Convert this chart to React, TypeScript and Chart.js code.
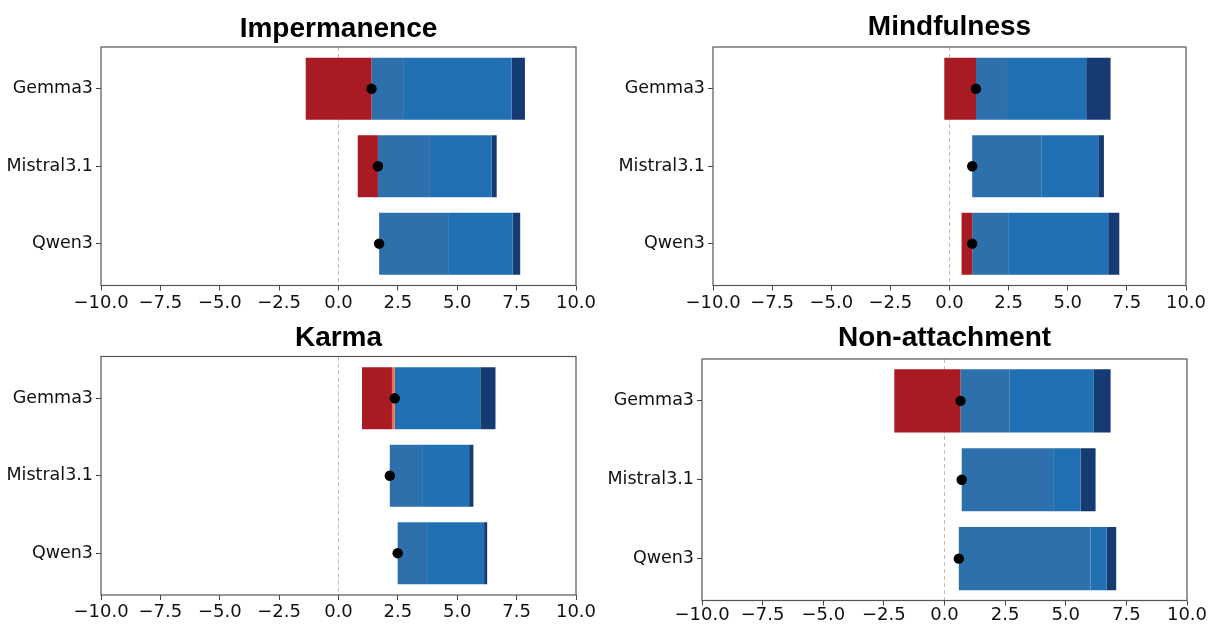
import React, { useEffect, useRef } from 'react';
import { Chart, registerables } from 'chart.js';

Chart.register(...registerables);

// ---------- data ----------
const MODELS = ['Gemma3', 'Mistral3.1', 'Qwen3'];
const TITLES = ['Impermanence', 'Mindfulness', 'Karma', 'Non-attachment'];
const X_TICKS = [-10, -7.5, -5, -2.5, 0, 2.5, 5, 7.5, 10];
const SEGMENT_NAMES = ['Strongly negative', 'Negative', 'Positive', 'More positive', 'Strongly positive'];
const SEGMENT_COLORS = ['#a81b23', '#e8734f', '#2d70ac', '#2270b4', '#163b73'];

// Impermanence (per model: Gemma3, Mistral3.1, Qwen3)
const IMP_START = [-1.38, 0.81, 1.71];
const IMP_SEG1 = [2.77, 0.85, 0];
const IMP_SEG2 = [0, 0, 0];
const IMP_SEG3 = [1.33, 2.19, 2.94];
const IMP_SEG4 = [4.57, 2.6, 2.68];
const IMP_SEG5 = [0.56, 0.21, 0.32];
const IMP_MEAN = [1.39, 1.66, 1.71];

// Mindfulness
const MIN_START = [-0.22, 0.96, 0.51];
const MIN_SEG1 = [1.34, 0, 0.45];
const MIN_SEG2 = [0, 0, 0];
const MIN_SEG3 = [1.31, 2.92, 1.52];
const MIN_SEG4 = [3.35, 2.41, 4.23];
const MIN_SEG5 = [1.03, 0.24, 0.47];
const MIN_MEAN = [1.12, 0.96, 0.96];

// Karma
const KAR_START = [0.99, 2.16, 2.49];
const KAR_SEG1 = [1.26, 0, 0];
const KAR_SEG2 = [0.12, 0, 0];
const KAR_SEG3 = [0, 1.36, 1.24];
const KAR_SEG4 = [3.6, 1.98, 2.4];
const KAR_SEG5 = [0.64, 0.18, 0.13];
const KAR_MEAN = [2.37, 2.16, 2.49];

// Non-attachment
const NON_START = [-2.07, 0.71, 0.59];
const NON_SEG1 = [2.73, 0, 0];
const NON_SEG2 = [0, 0, 0];
const NON_SEG3 = [2.03, 3.77, 5.43];
const NON_SEG4 = [3.47, 1.13, 0.66];
const NON_SEG5 = [0.69, 0.62, 0.4];
const NON_MEAN = [0.66, 0.71, 0.59];

const PANEL_DATA = [
  { start: IMP_START, segs: [IMP_SEG1, IMP_SEG2, IMP_SEG3, IMP_SEG4, IMP_SEG5], mean: IMP_MEAN },
  { start: MIN_START, segs: [MIN_SEG1, MIN_SEG2, MIN_SEG3, MIN_SEG4, MIN_SEG5], mean: MIN_MEAN },
  { start: KAR_START, segs: [KAR_SEG1, KAR_SEG2, KAR_SEG3, KAR_SEG4, KAR_SEG5], mean: KAR_MEAN },
  { start: NON_START, segs: [NON_SEG1, NON_SEG2, NON_SEG3, NON_SEG4, NON_SEG5], mean: NON_MEAN },
];

// ---------- layout ----------
const LAYOUT = [
  { left: 0, top: 0, w: 607, h: 317, l: 101, r: 576, t: 47, b: 285.5, tc: 29.5, yMin: -0.54, yMax: 2.54, xPad: 2 },
  { left: 607, top: 0, w: 608, h: 317, l: 106, r: 579, t: 47, b: 285.5, tc: 27.5, yMin: -0.54, yMax: 2.54, xPad: 2 },
  { left: 0, top: 317, w: 607, h: 317, l: 101, r: 576, t: 39.5, b: 278, tc: 21.5, yMin: -0.54, yMax: 2.54, xPad: 2 },
  { left: 607, top: 317, w: 608, h: 317, l: 95, r: 580, t: 42, b: 283.5, tc: 21, yMin: -0.53, yMax: 2.53, xPad: -1 },
];

const TITLE_SIZE = 28;
const X_TICK_FONT = { family: 'DejaVu Sans', size: 18 };
const Y_TICK_FONT = { family: 'DejaVu Sans', size: 17.5 };

const framePlugin = {
  id: 'frame',
  afterDatasetsDraw(chart: any) {
    const { ctx, chartArea } = chart;
    ctx.save();
    ctx.strokeStyle = '#555';
    ctx.lineWidth = 1.2;
    ctx.strokeRect(chartArea.left, chartArea.top, chartArea.right - chartArea.left, chartArea.bottom - chartArea.top);
    ctx.restore();
  },
};

function fmt(v: number) {
  const s = Math.abs(v).toFixed(1);
  return v < 0 ? '\u2212' + s : s;
}

function Panel({ idx }: { idx: number }) {
  const ref = useRef<HTMLCanvasElement | null>(null);
  const L = LAYOUT[idx];
  useEffect(() => {
    const pd = PANEL_DATA[idx];
    const datasets: any[] = [];
    const cum = pd.start.slice();
    pd.segs.forEach((seg, s) => {
      const data = MODELS.map((_, i) => {
        const lo = cum[i];
        const hi = lo + seg[i];
        cum[i] = hi;
        return { x: [lo, hi], y: i };
      });
      datasets.push({
        type: 'bar',
        label: SEGMENT_NAMES[s],
        data,
        backgroundColor: SEGMENT_COLORS[s],
        borderWidth: 0,
        borderSkipped: false,
        grouped: false,
        categoryPercentage: 1,
        barPercentage: 0.8,
        order: 1,
      });
    });
    datasets.push({
      type: 'scatter',
      label: 'Mean',
      data: MODELS.map((_, i) => ({ x: pd.mean[i], y: i })),
      backgroundColor: '#000',
      borderColor: '#000',
      pointRadius: 5.2,
      borderWidth: 0,
      order: 0,
    });
    const titleTop = L.tc - (TITLE_SIZE * 1.2) / 2;
    const titleBottom = L.t - titleTop - TITLE_SIZE * 1.2;
    const chart = new Chart(ref.current as HTMLCanvasElement, {
      type: 'bar',
      data: { datasets },
      plugins: [framePlugin],
      options: {
        indexAxis: 'y',
        animation: false,
        responsive: false,
        devicePixelRatio: window.devicePixelRatio || 1,
        layout: { padding: { left: 0, top: 0, bottom: 0, right: L.w - L.r } },
        plugins: {
          legend: { display: false },
          tooltip: { enabled: false },
          title: {
            display: true,
            fullSize: false,
            text: TITLES[idx],
            color: '#000',
            font: { family: 'Liberation Sans', size: TITLE_SIZE, weight: 'bold', lineHeight: 1.2 },
            padding: { top: titleTop, bottom: titleBottom },
          },
        },
        scales: {
          x: {
            type: 'linear',
            min: -10,
            max: 10,
            offset: false,
            afterBuildTicks: (scale: any) => {
              scale.ticks = X_TICKS.map((v) => ({ value: v }));
            },
            afterFit: (scale: any) => {
              scale.height = L.h - L.b;
            },
            ticks: {
              autoSkip: false,
              maxRotation: 0,
              padding: L.xPad,
              color: '#111',
              font: X_TICK_FONT,
              callback: (v: any) => fmt(Number(v)),
            },
            grid: {
              display: true,
              offset: false,
              drawOnChartArea: true,
              drawTicks: true,
              tickLength: 5,
              tickColor: '#444',
              lineWidth: 1,
              color: (ctx: any) => (ctx.tick && ctx.tick.value === 0 ? '#bdbdbd' : 'rgba(0,0,0,0)'),
            },
            border: { display: false, dash: [4, 3] },
          },
          y: {
            type: 'linear',
            min: L.yMin,
            max: L.yMax,
            reverse: true,
            offset: false,
            afterBuildTicks: (scale: any) => {
              scale.ticks = MODELS.map((_, i) => ({ value: i }));
            },
            afterFit: (scale: any) => {
              scale.width = L.l;
            },
            ticks: {
              autoSkip: false,
              padding: 3,
              color: '#111',
              font: Y_TICK_FONT,
              callback: (v: any) => MODELS[Number(v)] ?? '',
            },
            grid: {
              display: true,
              offset: false,
              drawOnChartArea: false,
              drawTicks: true,
              tickLength: 5,
              tickColor: '#444',
              color: 'rgba(0,0,0,0)',
            },
            border: { display: false },
          },
        },
      } as any,
    });
    return () => chart.destroy();
  }, [idx]);
  return (
    <div style={{ position: 'absolute', left: L.left, top: L.top, width: L.w, height: L.h }}>
      <canvas ref={ref} width={L.w} height={L.h} style={{ width: L.w, height: L.h, display: 'block' }} />
    </div>
  );
}

export default function App() {
  return (
    <div style={{ position: 'absolute', left: 0, top: 0, width: 1215, height: 634, background: '#fff', overflow: 'hidden' }}>
      {TITLES.map((_, i) => (
        <Panel key={i} idx={i} />
      ))}
    </div>
  );
}
